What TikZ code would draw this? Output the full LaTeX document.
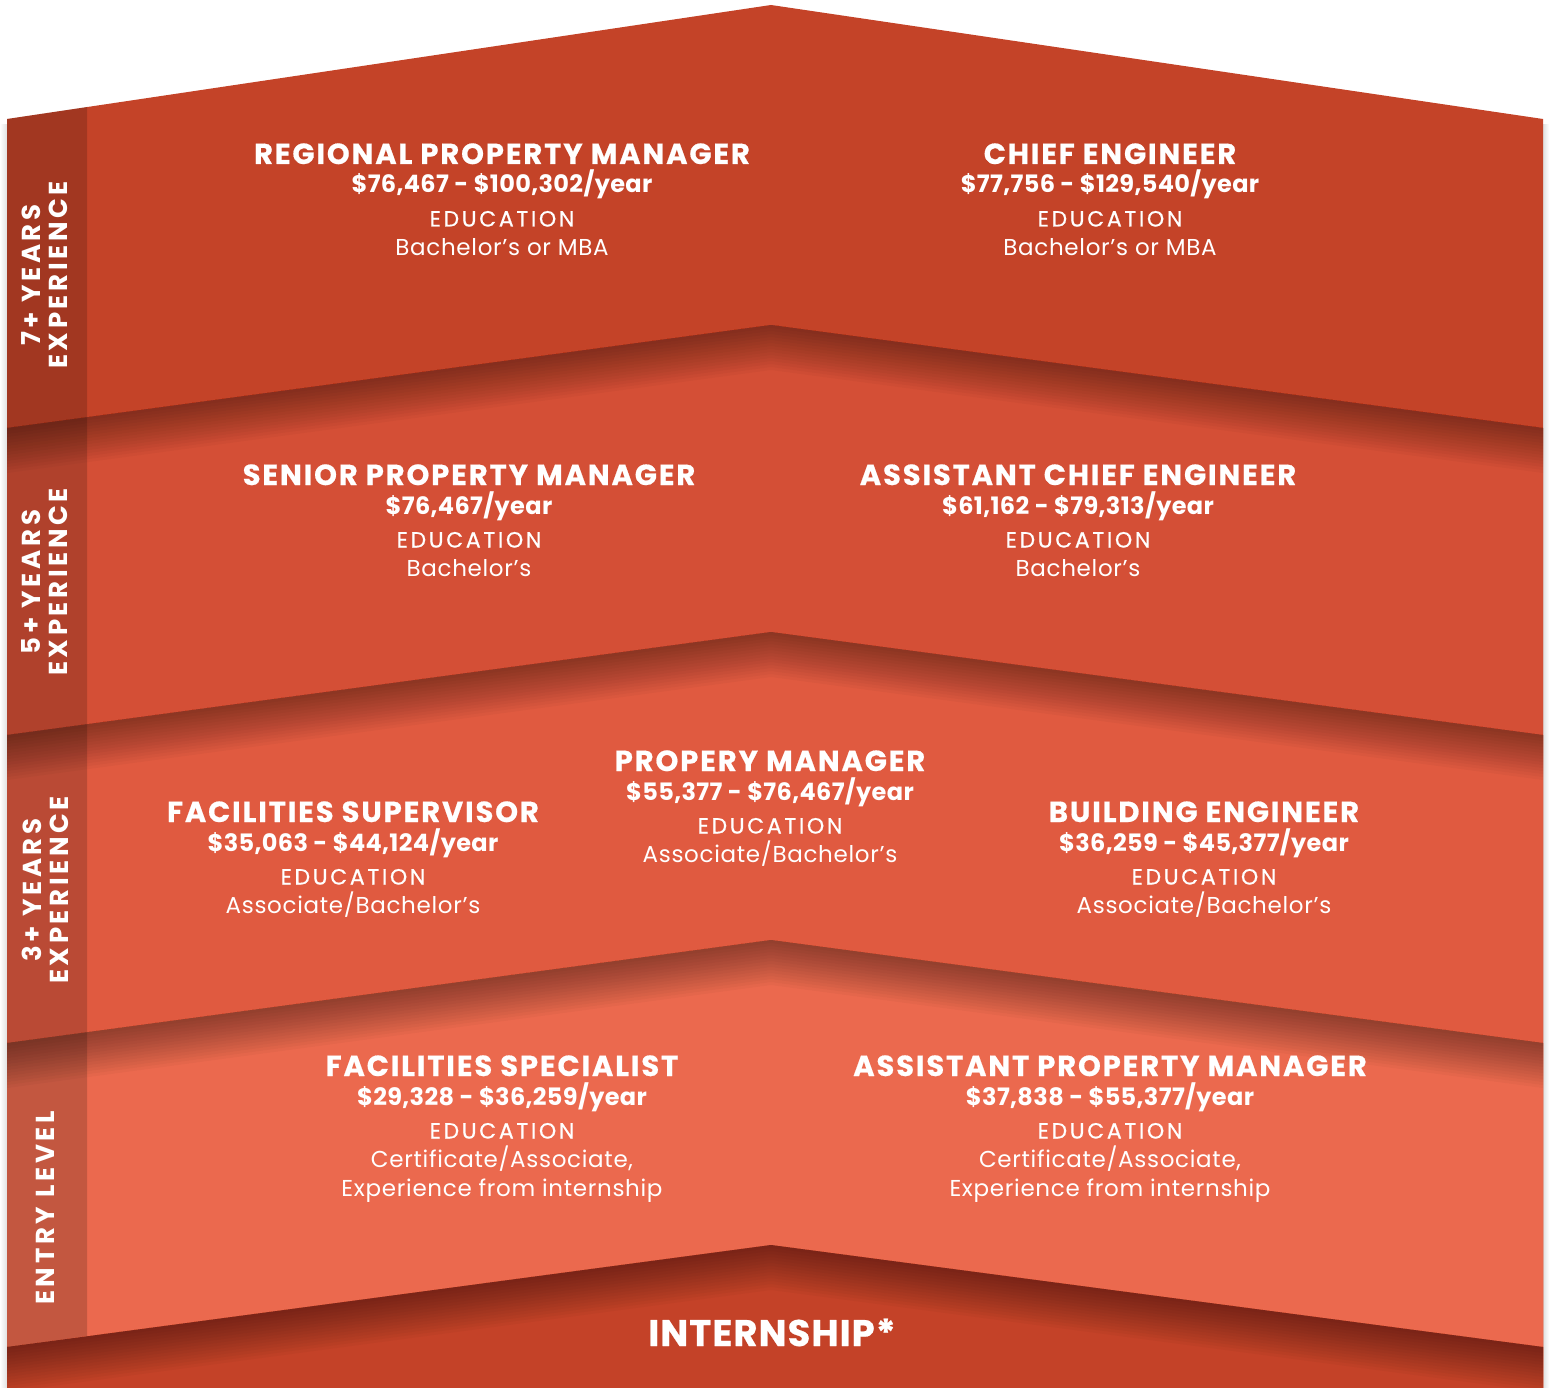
\documentclass[tikz,border=0pt]{standalone}
\usepackage{fontspec}
\setmainfont{Poppins}
\usepackage{xcolor}
\definecolor{bandA}{HTML}{C44328}
\definecolor{bandB}{HTML}{D44F36}
\definecolor{bandC}{HTML}{E05A40}
\definecolor{bandD}{HTML}{EB694E}
\definecolor{bandE}{HTML}{C44228}

\tikzset{
  jobtitle/.style={text=white, anchor=base, inner sep=0pt,
    font=\bfseries\fontsize{29}{29}\selectfont\addfontfeature{LetterSpace=6.5,FakeBold=0.6}},
  salary/.style={text=white, anchor=base, inner sep=0pt,
    font=\bfseries\fontsize{24}{24}\selectfont\addfontfeature{LetterSpace=1.5}},
  edulabel/.style={text=white, anchor=base, inner sep=0pt,
    font=\fontsize{22}{22}\selectfont\addfontfeature{LetterSpace=12,FakeBold=0.7}},
  edutext/.style={text=white, anchor=base, inner sep=0pt,
    font=\fontsize{23}{23}\selectfont\addfontfeature{LetterSpace=3}},
  sidelabel/.style={text=white, rotate=90, align=center, inner sep=0pt,
    font=\bfseries\fontsize{26}{27}\selectfont\addfontfeature{LetterSpace=14}}
}

% name, x, baseline y, title, pay, education
\newcommand\jobcard[6]{%
  \node[jobtitle] (#1-title) at (#2,#3) {#4};
  \node[salary]   (#1-pay)   at (#2,{#3+29}) {#5};
  \node[edulabel] (#1-edu)   at (#2,{#3+62.5}) {EDUCATION};
  \node[edutext]  (#1-need)  at (#2,{#3+91.5}) {#6};
}

\begin{document}
\begin{tikzpicture}[x=1pt,y=-1pt]
    \useasboundingbox (0,0) rectangle (1549,1388);
    % soft grey edge
    \shade[left color=white,right color=black!12] (0,125) rectangle (7,1388);
    \shade[left color=black!12,right color=white] (1543,125) rectangle (1549,1388);
    % bands, top to bottom
    \foreach \peak/\side/\col in {5/119/bandA, 325/428/bandB, 632/735/bandC,
                                  940/1043/bandD, 1245/1347/bandE}
      \fill[\col] (7,\side) -- (771,\peak) -- (1543,\side)
                  -- (1543,1388) -- (7,1388) -- cycle;
    % shadow under each fold
    \foreach \peak/\side in {325/428, 632/735, 940/1043, 1245/1347}
      \foreach \k in {1,...,15}
        \fill[black, opacity=0.028] (7,\side) -- (771,\peak) -- (1543,\side)
             -- (1543,{\side+3*\k}) -- (771,{\peak+3*\k}) -- (7,{\side+3*\k}) -- cycle;
    % side strip
    \fill[black, opacity=0.17] (7,119) -- (87,107) -- (87,1336) -- (7,1347) -- cycle;

    \node[sidelabel] (lvl-seven) at (45,275)  {7+ YEARS\\EXPERIENCE};
    \node[sidelabel] (lvl-five)  at (45,582)  {5+ YEARS\\EXPERIENCE};
    \node[sidelabel] (lvl-three) at (45,890)  {3+ YEARS\\EXPERIENCE};
    \node[sidelabel] (lvl-entry) at (45,1208) {ENTRY LEVEL};

    \jobcard{rpm}{502}{164}{REGIONAL PROPERTY MANAGER}{\$76,467 - \$100,302/year}{Bachelor’s or MBA}
    \jobcard{ce}{1110}{164}{CHIEF ENGINEER}{\$77,756 - \$129,540/year}{Bachelor’s or MBA}

    \jobcard{spm}{469}{485}{SENIOR PROPERTY MANAGER}{\$76,467/year}{Bachelor’s}
    \jobcard{ace}{1078}{485}{ASSISTANT CHIEF ENGINEER}{\$61,162 - \$79,313/year}{Bachelor’s}

    \jobcard{fsup}{353}{822}{FACILITIES SUPERVISOR}{\$35,063 - \$44,124/year}{Associate/Bachelor’s}
    \jobcard{pm}{770}{771}{PROPERY MANAGER}{\$55,377 - \$76,467/year}{Associate/Bachelor’s}
    \jobcard{be}{1204}{822}{BUILDING ENGINEER}{\$36,259 - \$45,377/year}{Associate/Bachelor’s}

    \jobcard{fspec}{502}{1076}{FACILITIES SPECIALIST}{\$29,328 - \$36,259/year}{Certificate/Associate,}
    \node[edutext] (fspec-need2) at (502,1196.5) {Experience from internship};
    \jobcard{apm}{1110}{1076}{ASSISTANT PROPERTY MANAGER}{\$37,838 - \$55,377/year}{Certificate/Associate,}
    \node[edutext] (apm-need2) at (1110,1196.5) {Experience from internship};

    \node[jobtitle, font=\bfseries\fontsize{37}{37}\selectfont\addfontfeature{LetterSpace=3,FakeBold=0.6}]
      (intern) at (772,1346) {INTERNSHIP*};
\end{tikzpicture}
\end{document}
